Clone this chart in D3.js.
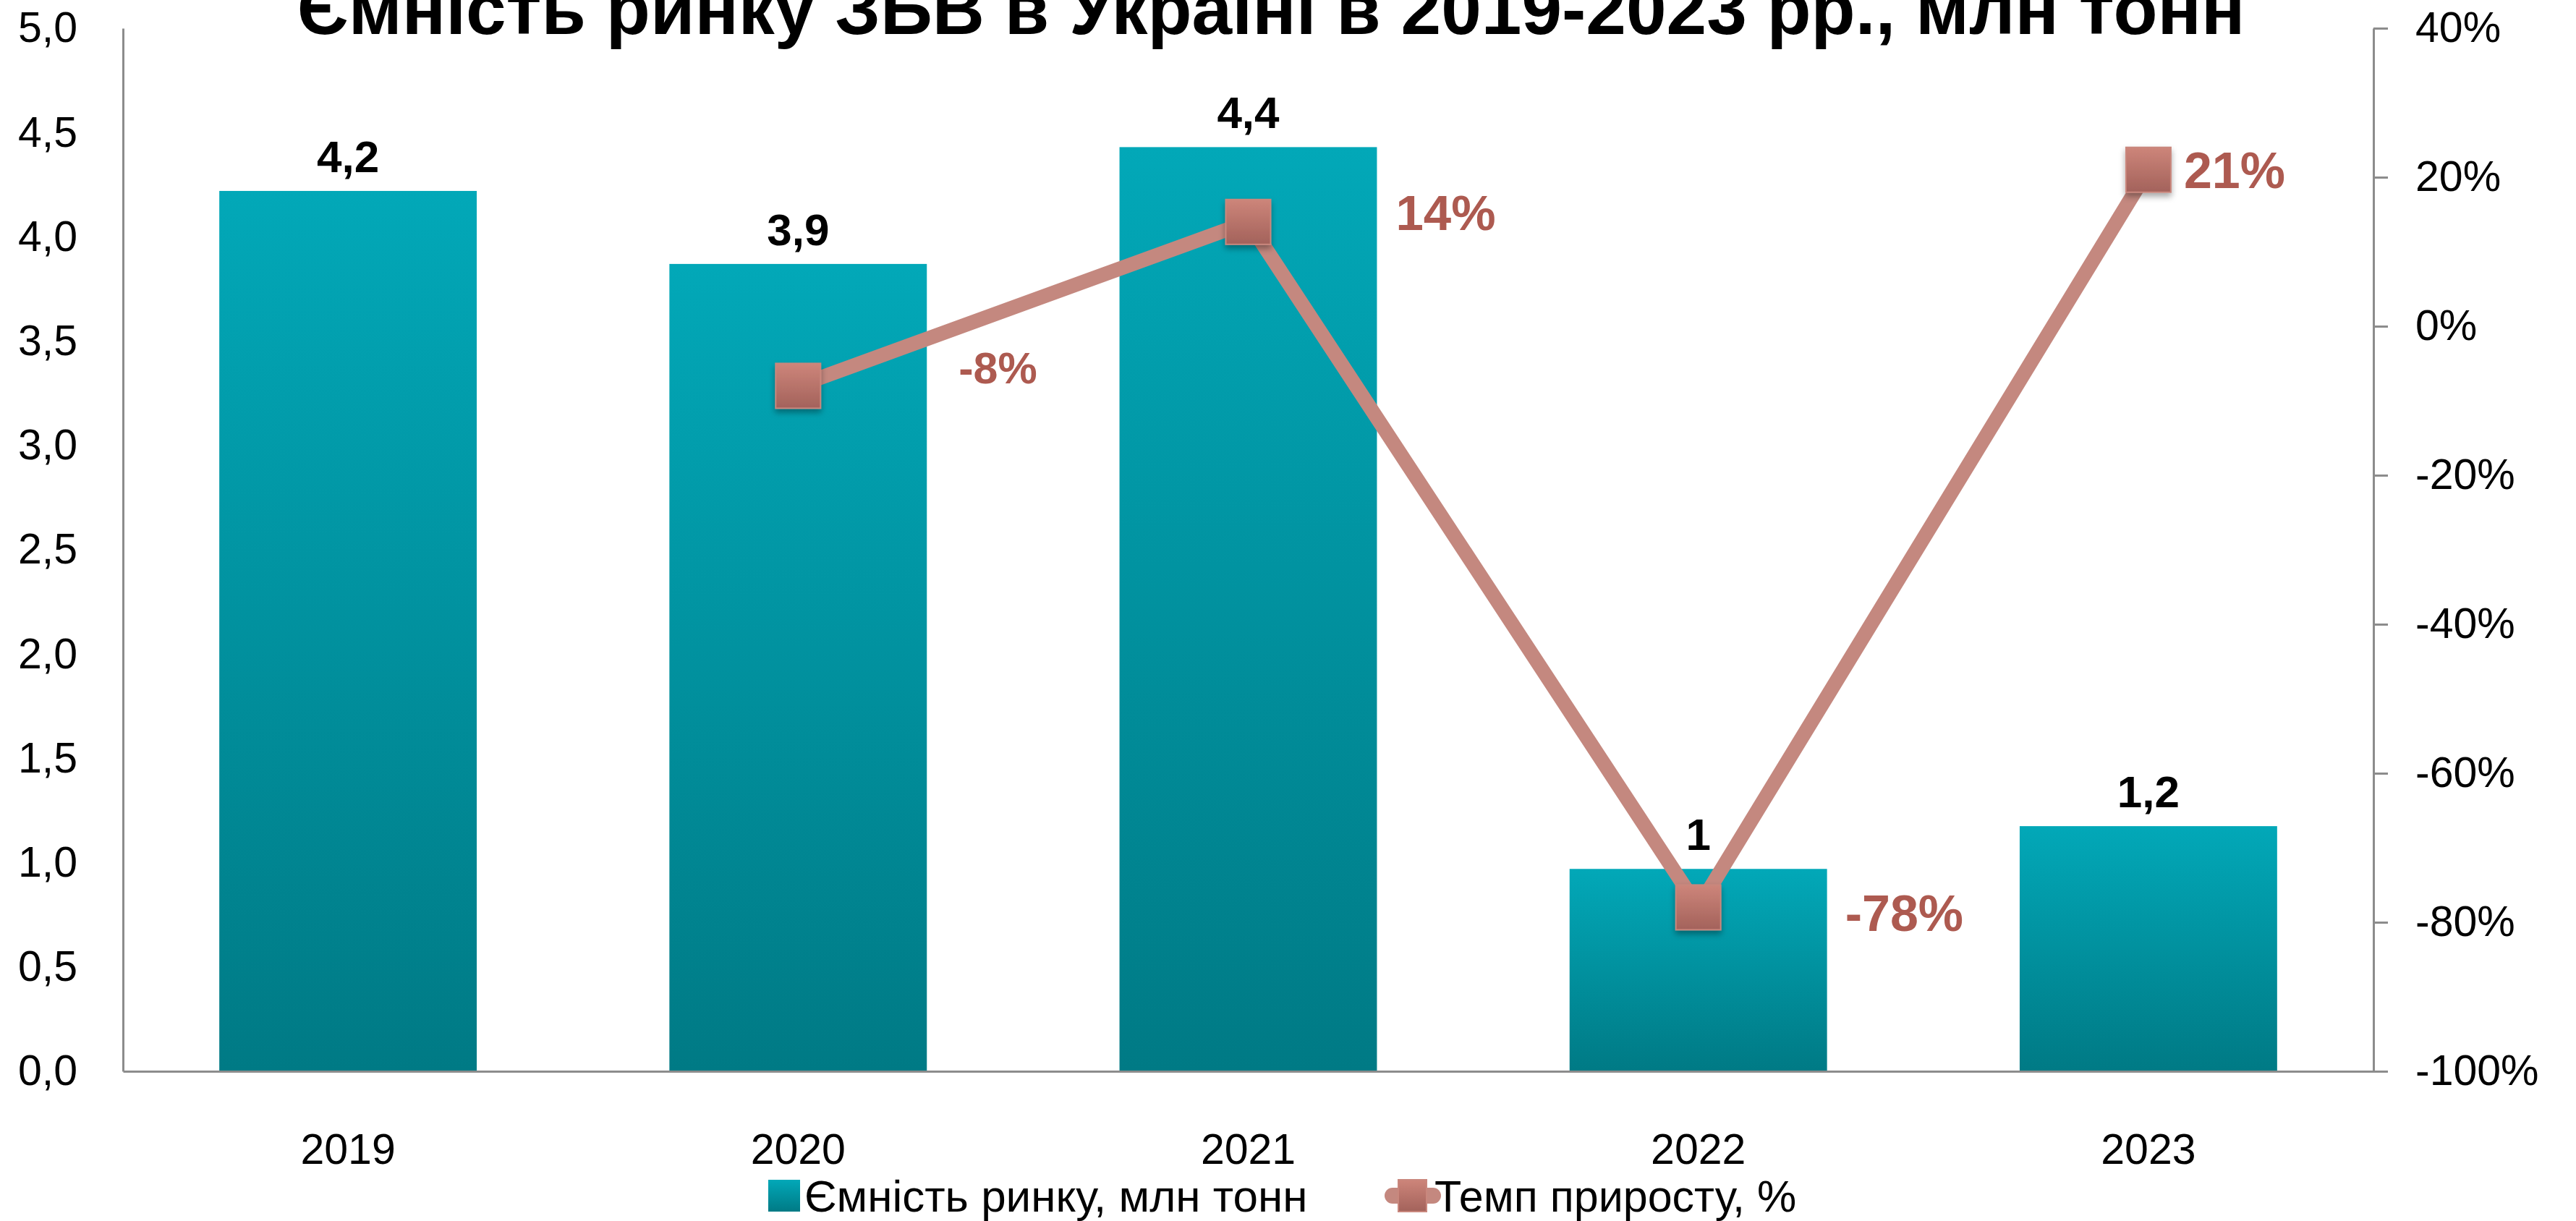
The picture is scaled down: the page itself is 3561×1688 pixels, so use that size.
<!DOCTYPE html>
<html>
<head>
<meta charset="utf-8">
<style>
    body { margin: 0; background: #fff; }
    svg { display: block; font-family: "Liberation Sans", Arial, sans-serif; }
    .axis .domain { stroke: #8c8c8c; stroke-width: 3; }
    .axis .tick line { stroke: #8c8c8c; stroke-width: 3; }
    .axis .tick text { font-size: 59px; fill: #000; }
    .title { font-size: 100px; font-weight: bold; }
    .bar-label { font-size: 62px; font-weight: bold; }
    .pct-label { font-weight: bold; fill: #ad5a50; }
    .legend { font-size: 61px; }
</style>
</head>
<body>
<svg width="3561" height="1688"></svg>
<script src="https://d3js.org/d3.v7.min.js"></script>
<script>
    // data
    const years = ["2019", "2020", "2021", "2022", "2023"];
    const capacity = [4.22, 3.87, 4.43, 0.97, 1.175];
    const capacityLabels = ["4,2", "3,9", "4,4", "1", "1,2"];
    const growth = [null, -8, 14, -78, 21];
    const growthLabels = [null, "-8%", "14%", "-78%", "21%"];
    const leftTicks = [0, 0.5, 1, 1.5, 2, 2.5, 3, 3.5, 4, 4.5, 5];
    const rightTicks = [-100, -80, -60, -40, -20, 0, 20, 40];

    const seriesNames = ["Ємність ринку, млн тонн", "Темп приросту, %"];
    const title = "Ємність ринку ЗБВ в Україні в 2019-2023 рр., млн тонн";

    let margin = { top: 39, right: 275, bottom: 207, left: 170 };
    let width = 3561, height = 1688;

    let svg = d3.select("svg");
    let defs = svg.append("defs");

    let barGrad = defs.append("linearGradient")
        .attr("id", "barGrad").attr("x1", 0).attr("y1", 0).attr("x2", 0).attr("y2", 1);
    barGrad.append("stop").attr("offset", "0%").attr("stop-color", "#02a8b8");
    barGrad.append("stop").attr("offset", "100%").attr("stop-color", "#007a85");

    let markGrad = defs.append("linearGradient")
        .attr("id", "markGrad").attr("x1", 0).attr("y1", 0).attr("x2", 0).attr("y2", 1);
    markGrad.append("stop").attr("offset", "0%").attr("stop-color", "#cd857a");
    markGrad.append("stop").attr("offset", "100%").attr("stop-color", "#a3625b");

    let shadow = defs.append("filter").attr("id", "shadow")
        .attr("x", "-30%").attr("y", "-30%").attr("width", "160%").attr("height", "160%");
    shadow.append("feDropShadow").attr("dx", 0).attr("dy", 5).attr("stdDeviation", 4)
        .attr("flood-color", "#000").attr("flood-opacity", 0.35);

    let x = d3.scaleBand()
        .domain(years)
        .range([margin.left, width - margin.right - 5])
        .paddingInner(0.428)
        .paddingOuter(0.214);

    let yL = d3.scaleLinear().domain([0, 5]).range([height - margin.bottom, margin.top]);
    let yR = d3.scaleLinear().domain([-100, 40]).range([height - margin.bottom, margin.top]);

    let comma = d3.formatLocale({ decimal: ",", thousands: " ", grouping: [3], currency: ["", ""] });

    // axes
    svg.append("g")
        .attr("class", "axis")
        .attr("transform", `translate(${margin.left},0)`)
        .call(d3.axisLeft(yL).tickValues(leftTicks).tickFormat(comma.format(".1f"))
            .tickSize(0).tickPadding(63));

    let rightX = x.range()[1];
    svg.append("g")
        .attr("class", "axis")
        .attr("transform", `translate(${rightX},0)`)
        .call(d3.axisRight(yR).tickValues(rightTicks).tickFormat(d => d + "%")
            .tickSize(20).tickSizeOuter(0).tickPadding(38));

    // bars
    svg.append("g")
        .selectAll("rect")
        .data(years)
        .join("rect")
        .attr("x", d => x(d))
        .attr("y", (d, i) => yL(capacity[i]))
        .attr("width", x.bandwidth())
        .attr("height", (d, i) => yL(0) - yL(capacity[i]))
        .attr("fill", "url(#barGrad)");

    svg.append("g")
        .attr("class", "axis")
        .attr("transform", `translate(0,${yL(0)})`)
        .call(d3.axisBottom(x).tickSize(0).tickSizeOuter(0).tickPadding(86));

    svg.append("g")
        .selectAll("text")
        .data(years)
        .join("text")
        .attr("class", "bar-label")
        .attr("x", d => x(d) + x.bandwidth() / 2)
        .attr("y", (d, i) => yL(capacity[i]) - 26)
        .attr("text-anchor", "middle")
        .text((d, i) => capacityLabels[i]);

    // growth line
    let pts = years.map((d, i) => ({ year: d, v: growth[i], label: growthLabels[i] }))
        .filter(d => d.v !== null);

    let line = d3.line()
        .x(d => x(d.year) + x.bandwidth() / 2)
        .y(d => yR(d.v));

    svg.append("path")
        .datum(pts)
        .attr("d", line)
        .attr("fill", "none")
        .attr("stroke", "#c4887f")
        .attr("stroke-width", 20)
        .attr("stroke-linejoin", "miter");

    let ms = 62;
    svg.append("g")
        .selectAll("rect")
        .data(pts)
        .join("rect")
        .attr("x", d => x(d.year) + x.bandwidth() / 2 - ms / 2)
        .attr("y", d => yR(d.v) - ms / 2)
        .attr("width", ms)
        .attr("height", ms)
        .attr("fill", "url(#markGrad)")
        .attr("stroke", "#c9877d")
        .attr("stroke-width", 2)
        .attr("filter", "url(#shadow)");

    // label placement as in the picture
    let labelDx = { "2020": 222, "2021": 204, "2022": 203, "2023": 49 };
    let labelDy = { "2020": -25, "2021": -14, "2022": 7, "2023": 0 };
    let labelSize = { "2020": 61, "2021": 69, "2022": 70, "2023": 70 };
    svg.append("g")
        .selectAll("text")
        .data(pts)
        .join("text")
        .attr("class", "pct-label")
        .attr("x", d => x(d.year) + x.bandwidth() / 2 + labelDx[d.year])
        .attr("y", d => yR(d.v) + labelDy[d.year])
        .attr("dy", "0.36em")
        .style("font-size", d => labelSize[d.year] + "px")
        .text(d => d.label);

    // title
    svg.append("text")
        .attr("class", "title")
        .attr("x", 1757)
        .attr("y", 47)
        .attr("text-anchor", "middle")
        .text(title);

    // legend
    let ly = 1653;
    svg.append("rect")
        .attr("x", 1062).attr("y", ly - 22).attr("width", 44).attr("height", 44)
        .attr("fill", "url(#barGrad)");
    svg.append("text")
        .attr("class", "legend")
        .attr("x", 1112).attr("y", ly).attr("dy", "0.36em")
        .style("font-size", "62px")
        .text(seriesNames[0]);

    svg.append("line")
        .attr("x1", 1925).attr("x2", 1981).attr("y1", ly).attr("y2", ly)
        .attr("stroke", "#c4887f").attr("stroke-width", 22).attr("stroke-linecap", "round");
    svg.append("rect")
        .attr("x", 1933).attr("y", ly - 22).attr("width", 39).attr("height", 44)
        .attr("fill", "url(#markGrad)")
        .attr("stroke", "#c9877d").attr("stroke-width", 2);
    svg.append("text")
        .attr("class", "legend")
        .attr("x", 1983).attr("y", ly).attr("dy", "0.36em")
        .text(seriesNames[1]);
</script>
</body>
</html>
